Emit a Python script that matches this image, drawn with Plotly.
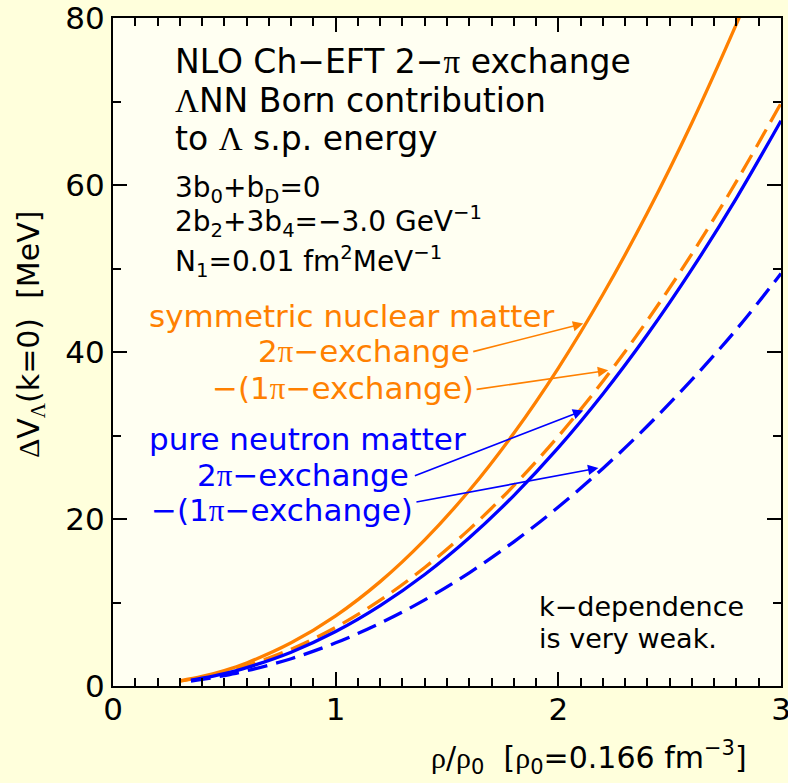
import plotly.graph_objects as go

# ---- data: Lambda s.p. energy shift (MeV) vs density rho/rho0 ----
rho_snm_2pi = [0.3, 0.4, 0.5, 0.6, 0.8, 1.0, 1.2, 1.4, 1.6, 1.8, 2.0, 2.2, 2.4, 2.6, 2.8, 2.9]
dv_snm_2pi = [0.61, 1.14, 1.85, 2.76, 5.17, 8.40, 12.50, 17.50, 23.41, 30.27, 38.08, 46.88, 56.67, 67.46, 79.30, 85.6]

rho_snm_1pi = [0.3, 0.4, 0.5, 0.6, 0.8, 1.0, 1.2, 1.4, 1.6, 1.8, 2.0, 2.2, 2.4, 2.6, 2.8, 3.0]
dv_snm_1pi = [0.57, 1.04, 1.65, 2.42, 4.41, 7.03, 10.28, 14.19, 18.76, 24.00, 29.91, 36.50, 43.79, 51.76, 60.43, 69.8]

rho_pnm = [0.35, 0.4, 0.5, 0.6, 0.8, 1.0, 1.2, 1.4, 1.6, 1.8, 2.0, 2.2, 2.4, 2.6, 2.8, 3.0]
dv_pnm_2pi = [0.70, 0.93, 1.49, 2.20, 4.05, 6.52, 9.62, 13.35, 17.75, 22.81, 28.54, 34.97, 42.09, 49.92, 58.44, 67.7]
dv_pnm_1pi = [0.60, 0.79, 1.25, 1.82, 3.27, 5.17, 7.52, 10.31, 13.56, 17.27, 21.43, 26.05, 31.14, 36.69, 42.71, 49.4]

x_ticks = [0, 1, 2, 3]
y_ticks = [0, 20, 40, 60, 80]

ORANGE = "#ff8000"
BLUE = "#0000ff"
FONT = "DejaVu Sans"
GREEK = "Liberation Serif"

W, H = 788, 783
L, R, T, B = 113, 7, 18, 97
PW, PH = W - L - R, H - T - B


def px(x):
    return (x - L) / PW


def py(y):
    return (H - B - y) / PH


def g(ch):
    return f"<span style='font-family:{GREEK}'>{ch}</span>"


fig = go.Figure()

curves = [
    (rho_snm_2pi, dv_snm_2pi, ORANGE, "solid"),
    (rho_snm_1pi, dv_snm_1pi, ORANGE, "20px,9px"),
    (rho_pnm, dv_pnm_2pi, BLUE, "solid"),
    (rho_pnm, dv_pnm_1pi, BLUE, "20px,9px"),
]
for xs, ys, col, dash in curves:
    fig.add_trace(go.Scatter(
        x=xs, y=ys, mode="lines",
        line=dict(color=col, width=3.3, dash=dash, shape="spline"),
        showlegend=False, hoverinfo="skip",
    ))

ann = []


def text(x, y, s, size, color="black", anchor="left", angle=0):
    ann.append(dict(
        x=px(x), y=py(y), xref="paper", yref="paper", text=s,
        showarrow=False, xanchor=anchor, yanchor="middle", textangle=angle,
        font=dict(family=FONT, size=size, color=color),
    ))


# header block
text(173, 62, f"NLO Ch−EFT 2−{g('π')} exchange", 33)
text(173, 100, f"{g('Λ')}NN Born contribution", 33)
text(173, 138, f"to {g('Λ')} s.p. energy", 33)

# parameters
text(173, 189, "3b<sub>0</sub>+b<sub>D</sub>=0", 28)
text(173, 221, "2b<sub>2</sub>+3b<sub>4</sub>=−3.0 GeV<sup>−1</sup>", 28)
text(173, 261, "N<sub>1</sub>=0.01 fm<sup>2</sup>MeV<sup>−1</sup>", 28)

# curve labels
text(147, 316, "symmetric nuclear matter", 31, ORANGE)
text(472, 351, f"2{g('π')}−exchange", 31, ORANGE, "right")
text(476, 388, f"−(1{g('π')}−exchange)", 31, ORANGE, "right")
text(147, 439, "pure neutron matter", 31, BLUE)
text(411, 475, f"2{g('π')}−exchange", 31, BLUE, "right")
text(415, 510, f"−(1{g('π')}−exchange)", 31, BLUE, "right")

text(537, 606, "k−dependence", 27)
text(537, 638, "is very weak.", 27)

# axis titles
text(589, 757, f"{g('ρ')}/{g('ρ')}<sub>0</sub>\u00a0\u00a0[{g('ρ')}<sub>0</sub>=0.166 fm<sup>−3</sup>]",
     30, anchor="center")
text(30, 335, f"{g('Δ')}V<sub>{g('Λ')}</sub>(k=0)\u00a0\u00a0[MeV]", 30, anchor="center", angle=-90)

# arrows from labels to curves (tail -> head, data coordinates)
arrows = [
    ((1.611, 40.0), (2.112, 43.4), ORANGE),
    ((1.626, 35.5), (2.224, 37.8), ORANGE),
    ((1.349, 25.1), (2.112, 33.0), BLUE),
    ((1.356, 22.0), (2.180, 26.1), BLUE),
]
for (tx, ty), (hx, hy), col in arrows:
    ann.append(dict(
        x=hx, y=hy, ax=tx, ay=ty, xref="x", yref="y", axref="x", ayref="y",
        showarrow=True, arrowhead=2, arrowsize=1.3, arrowwidth=1.6,
        arrowcolor=col, text="", standoff=0,
    ))

axis_common = dict(
    showline=True, linewidth=2, linecolor="black", mirror="allticks",
    ticks="inside", ticklen=14, tickwidth=2, tickcolor="black",
    showgrid=False, zeroline=False, ticklabeloverflow="allow", automargin=False,
    tickfont=dict(family=FONT, size=31, color="black"),
)

fig.update_layout(
    width=W, height=H,
    margin=dict(l=L, r=R, t=T, b=B, pad=0, autoexpand=False),
    paper_bgcolor="#ffffdc",
    plot_bgcolor="#fffff2",
    annotations=ann,
    xaxis=dict(range=[0, 3], tickvals=x_ticks, ticklabelstandoff=-5,
               minor=dict(dtick=0.1, ticklen=8, tickwidth=1.5, tickcolor="black", ticks="inside"),
               **axis_common),
    yaxis=dict(range=[0, 80], tickvals=y_ticks,
               minor=dict(dtick=10, ticklen=8, tickwidth=1.5, tickcolor="black", ticks="inside"),
               **axis_common),
)

fig.write_html("out.html")
